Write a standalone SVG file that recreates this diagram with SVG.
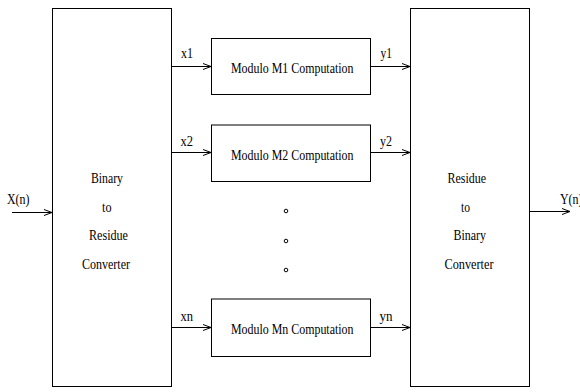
<svg xmlns="http://www.w3.org/2000/svg" width="580" height="392" viewBox="0 0 580 392">
<style>
.box{fill:#fff;stroke:#000;stroke-width:1}
.t{font-family:"Liberation Serif","Times New Roman",serif;font-size:14px;fill:#000}
.c{stroke:#000;stroke-width:1;fill:none}
.dot{fill:#fff;stroke:#000;stroke-width:1}
</style>
<defs>
<marker id="ah" markerUnits="userSpaceOnUse" markerWidth="10" markerHeight="8" viewBox="0 0 10 8" refX="9" refY="4" orient="auto">
<path d="M1,1 L9,4 L1,7" fill="none" stroke="#000" stroke-width="1"/>
</marker>
</defs>
<rect width="580" height="392" fill="#fff"/>
<g id="b2r">
<rect class="box" x="52.5" y="8.5" width="119" height="378"/>
<text class="t" x="91" y="183" textLength="32" lengthAdjust="spacingAndGlyphs">Binary</text>
<text class="t" x="102" y="211.5" textLength="9.5" lengthAdjust="spacingAndGlyphs">to</text>
<text class="t" x="89" y="240" textLength="39" lengthAdjust="spacingAndGlyphs">Residue</text>
<text class="t" x="82" y="269" textLength="48" lengthAdjust="spacingAndGlyphs">Converter</text>
</g>
<g id="m1">
<rect class="box" x="211.5" y="38.5" width="159" height="56"/>
<text class="t" x="231" y="73" textLength="122.5" lengthAdjust="spacingAndGlyphs">Modulo M1 Computation</text>
</g>
<g id="m2">
<rect class="box" x="211.5" y="125" width="159" height="56.5"/>
<text class="t" x="231" y="160" textLength="122.5" lengthAdjust="spacingAndGlyphs">Modulo M2 Computation</text>
</g>
<g id="mn">
<rect class="box" x="211.5" y="299" width="159" height="57.5"/>
<text class="t" x="231" y="334" textLength="122.5" lengthAdjust="spacingAndGlyphs">Modulo Mn Computation</text>
</g>
<g id="r2b">
<rect class="box" x="410.5" y="8.5" width="119" height="378"/>
<text class="t" x="447.5" y="182.5" textLength="38.5" lengthAdjust="spacingAndGlyphs">Residue</text>
<text class="t" x="461" y="211.5" textLength="9" lengthAdjust="spacingAndGlyphs">to</text>
<text class="t" x="453.5" y="240" textLength="32.5" lengthAdjust="spacingAndGlyphs">Binary</text>
<text class="t" x="444.5" y="269" textLength="49" lengthAdjust="spacingAndGlyphs">Converter</text>
</g>
<g id="dots">
<circle class="dot" cx="286" cy="211" r="1.8"/>
<circle class="dot" cx="286" cy="241" r="1.8"/>
<circle class="dot" cx="286" cy="270" r="1.8"/>
</g>
<g id="connectors">
<line class="c" x1="12" y1="212.5" x2="52" y2="212.5" marker-end="url(#ah)"/>
<line class="c" x1="172" y1="66.5" x2="211" y2="66.5" marker-end="url(#ah)"/>
<line class="c" x1="172" y1="152.5" x2="211" y2="152.5" marker-end="url(#ah)"/>
<line class="c" x1="172" y1="327.5" x2="211" y2="327.5" marker-end="url(#ah)"/>
<line class="c" x1="371" y1="66.5" x2="410" y2="66.5" marker-end="url(#ah)"/>
<line class="c" x1="371" y1="152.5" x2="410" y2="152.5" marker-end="url(#ah)"/>
<line class="c" x1="371" y1="327.5" x2="410" y2="327.5" marker-end="url(#ah)"/>
<line class="c" x1="530" y1="211.5" x2="570" y2="211.5" marker-end="url(#ah)"/>
<text class="t" x="7" y="204" textLength="22.5" lengthAdjust="spacingAndGlyphs">X(n)</text>
<text class="t" x="181" y="58" textLength="12" lengthAdjust="spacingAndGlyphs">x1</text>
<text class="t" x="180.5" y="145.5" textLength="12.5" lengthAdjust="spacingAndGlyphs">x2</text>
<text class="t" x="180.5" y="320.5" textLength="12.5" lengthAdjust="spacingAndGlyphs">xn</text>
<text class="t" x="380.5" y="58" textLength="11.5" lengthAdjust="spacingAndGlyphs">y1</text>
<text class="t" x="380" y="145.5" textLength="12" lengthAdjust="spacingAndGlyphs">y2</text>
<text class="t" x="379.5" y="320.5" textLength="13" lengthAdjust="spacingAndGlyphs">yn</text>
<text class="t" x="560" y="204" textLength="22.5" lengthAdjust="spacingAndGlyphs">Y(n)</text>
</g>
</svg>
